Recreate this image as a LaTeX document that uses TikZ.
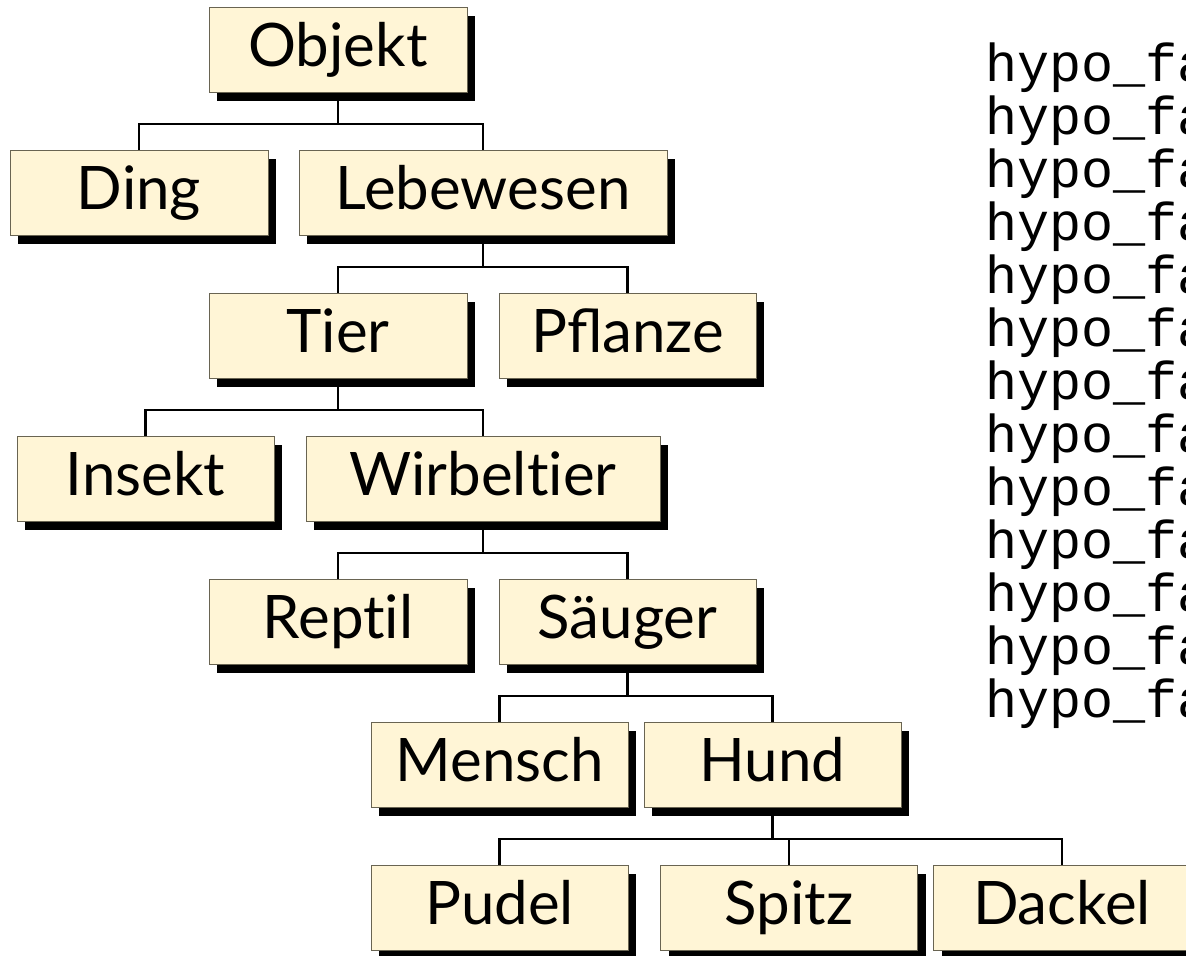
\documentclass[tikz,border=0pt]{standalone}
\usepackage{fontspec}
\usetikzlibrary{shadows}
\newfontfamily\bxfamily{Lato}
\newfontfamily\hyfamily{Liberation Mono}
\definecolor{boxfill}{RGB}{255,245,214}
\definecolor{boxline}{RGB}{105,100,82}
\newcommand\bxfont{\bxfamily\fontsize{30}{36}\selectfont}
\newcommand\hyfont{\hyfamily\fontsize{26.7}{26.5}\selectfont}
\tikzset{
  box/.style={draw=boxline, line width=0.5pt, fill=boxfill, anchor=north,
    minimum height=42.5pt, inner sep=0pt, text height=29.4pt, text depth=13.1pt,
    font=\bxfont, general shadow={fill=black, shadow xshift=4pt, shadow yshift=-4pt}},
  conn/.style={draw=black, line width=1.1pt},
  hyline/.style={anchor=base west, inner sep=0pt, font=\hyfont},
}
\begin{document}
\begin{tikzpicture}[x=0.5pt,y=-0.5pt]
\useasboundingbox (0,0) rectangle (1186,955);
\clip (0,0) rectangle (1186,955);
% boxes (placed invisibly first so connectors can refer to them)
\begin{scope}[box/.append style={draw=none, fill=none, general shadow={draw=none, fill=none}, text opacity=0}]
\node[box, minimum width=129pt]   (obj)  at (338,7)     {Objekt};
\node[box, minimum width=129pt]   (ding) at (139,150)   {Ding};
\node[box, minimum width=184pt]   (leb)  at (483,150)   {Lebewesen};
\node[box, minimum width=129pt]   (tier) at (338,293)   {Tier};
\node[box, minimum width=128.5pt] (pfl)  at (627.5,293) {Pflanze};
\node[box, minimum width=128.5pt] (ins)  at (145.5,436) {Insekt};
\node[box, minimum width=177pt]   (wir)  at (483,436)   {Wirbelt\kern0ptier};
\node[box, minimum width=129pt]   (rep)  at (338,579)   {Rept\kern0ptil};
\node[box, minimum width=128.5pt] (sau)  at (627.5,579) {Säuger};
\node[box, minimum width=128.5pt] (men)  at (499.5,722) {Mensch};
\node[box, minimum width=128.5pt] (hund) at (772.5,722) {Hund};
\node[box, minimum width=128.5pt] (pud)  at (499.5,865) {Pudel};
\node[box, minimum width=128.5pt] (spi)  at (789,865)   {Spitz};
\node[box, minimum width=128.5pt] (dac)  at (1062,865)  {Dackel};
\end{scope}
% connectors
\draw[conn] (obj.south)  -- ++(0,31) -| (ding.north);
\draw[conn] (obj.south)  -- ++(0,31) -| (leb.north);
\draw[conn] (leb.south)  -- ++(0,31) -| (tier.north);
\draw[conn] (leb.south)  -- ++(0,31) -| (pfl.north);
\draw[conn] (tier.south) -- ++(0,31) -| (ins.north);
\draw[conn] (tier.south) -- ++(0,31) -| (wir.north);
\draw[conn] (wir.south)  -- ++(0,31) -| (rep.north);
\draw[conn] (wir.south)  -- ++(0,31) -| (sau.north);
\draw[conn] (sau.south)  -- ++(0,31) -| (men.north);
\draw[conn] (sau.south)  -- ++(0,31) -| (hund.north);
\draw[conn] (hund.south) -- ++(0,31) -| (pud.north);
\draw[conn] (hund.south) -- ++(0,31) -| (spi.north);
\draw[conn] (hund.south) -- ++(0,31) -| (dac.north);
% visible boxes
\node[box, minimum width=129pt]   (obj)  at (338,7)     {Objekt};
\node[box, minimum width=129pt]   (ding) at (139,150)   {Ding};
\node[box, minimum width=184pt]   (leb)  at (483,150)   {Lebewesen};
\node[box, minimum width=129pt]   (tier) at (338,293)   {Tier};
\node[box, minimum width=128.5pt] (pfl)  at (627.5,293) {Pflanze};
\node[box, minimum width=128.5pt] (ins)  at (145.5,436) {Insekt};
\node[box, minimum width=177pt]   (wir)  at (483,436)   {Wirbelt\kern0ptier};
\node[box, minimum width=129pt]   (rep)  at (338,579)   {Rept\kern0ptil};
\node[box, minimum width=128.5pt] (sau)  at (627.5,579) {Säuger};
\node[box, minimum width=128.5pt] (men)  at (499.5,722) {Mensch};
\node[box, minimum width=128.5pt] (hund) at (772.5,722) {Hund};
\node[box, minimum width=128.5pt] (pud)  at (499.5,865) {Pudel};
\node[box, minimum width=128.5pt] (spi)  at (789,865)   {Spitz};
\node[box, minimum width=128.5pt] (dac)  at (1062,865)  {Dackel};
% right-hand text
\foreach \i in {0,...,12}
  \node[hyline] (h\i) at (985,{81.7+53*\i}) {hypo\_fa};
\end{tikzpicture}
\end{document}
